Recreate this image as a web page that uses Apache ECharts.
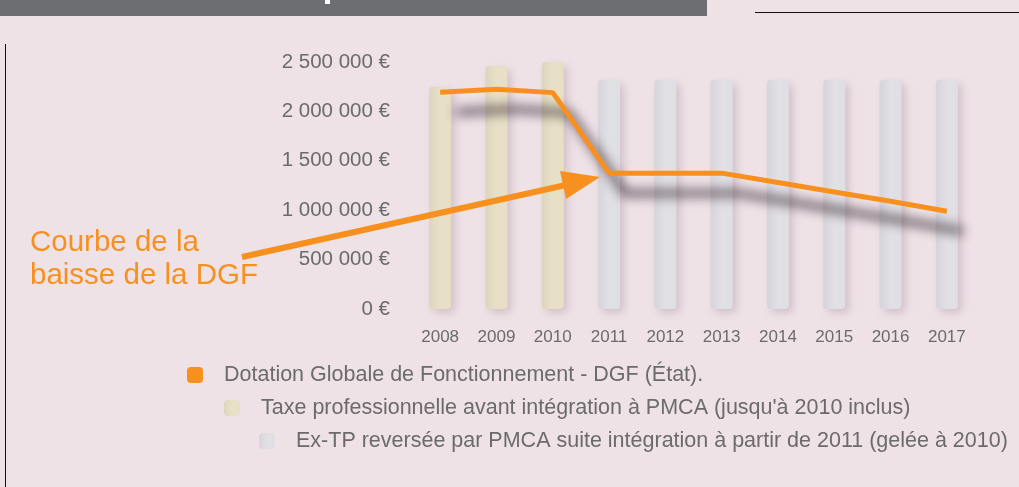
<!DOCTYPE html>
<html>
<head>
<meta charset="utf-8">
<script src="https://cdn.jsdelivr.net/npm/echarts@6/dist/echarts.min.js"></script>
<style>
  html, body { margin: 0; padding: 0; background: #eee2e7; }
  #chart { width: 1019px; height: 487px; }
</style>
</head>
<body>
<div id="chart"></div>
<script>
const years = ["2008", "2009", "2010", "2011", "2012", "2013", "2014", "2015", "2016", "2017"];
const taxePro = [2250000, 2460000, 2540000, null, null, null, null, null, null, null];
const exTP = [null, null, null, 2320000, 2320000, 2320000, 2320000, 2320000, 2320000, 2320000];
const dgf = [2195000, 2225000, 2190000, 1375000, 1375000, 1375000, 1280000, 1185000, 1090000, 990000];
const yTicks = { min: 0, max: 2500000, interval: 500000 };
const seriesNames = [
  "Dotation Globale de Fonctionnement - DGF (État).",
  "Taxe professionnelle avant intégration à PMCA (jusqu'à 2010 inclus)",
  "Ex-TP reversée par PMCA suite intégration à partir de 2011 (gelée à 2010)"
];

const chart = echarts.init(document.getElementById("chart"));

function euro(v) {
  return String(v).replace(/\B(?=(\d{3})+(?!\d))/g, " ") + " €";
}

// petite légende décalée, une par série
function legendAt(name, left, top) {
  return {
    data: [name],
    left: left,
    top: top,
    icon: "roundRect",
    itemWidth: 16,
    itemHeight: 16,
    selectedMode: false,
    textStyle: {
      color: "#6b6b6b",
      fontSize: 21.5,
      fontFamily: "Liberation Sans, Arial",
      padding: [0, 0, 0, 16]
    }
  };
}

const barShadow = {
  shadowBlur: 8,
  shadowColor: "rgba(90,60,75,0.2)",
  shadowOffsetX: 4,
  shadowOffsetY: 4
};

chart.setOption({
  backgroundColor: "#eee2e7",
  animation: false,
  grid: { left: 412, width: 563, top: 62, bottom: 178 },
  xAxis: {
    type: "category",
    data: years,
    axisLine: { show: false },
    axisTick: { show: false },
    axisLabel: { color: "#6b6b6b", fontSize: 17, margin: 20, fontFamily: "Liberation Sans, Arial" }
  },
  yAxis: {
    type: "value",
    min: yTicks.min,
    max: yTicks.max,
    interval: yTicks.interval,
    axisLine: { show: false },
    axisTick: { show: false },
    splitLine: { show: false },
    axisLabel: {
      color: "#6b6b6b",
      fontSize: 20.5,
      margin: 22,
      fontFamily: "Liberation Sans, Arial",
      formatter: euro
    }
  },
  legend: [
    legendAt(seriesNames[0], 182, 359),
    legendAt(seriesNames[1], 219, 392),
    legendAt(seriesNames[2], 254, 425)
  ],
  series: [
    {
      name: seriesNames[1],
      type: "bar",
      data: taxePro,
      barWidth: 22,
      barGap: "-100%",
      itemStyle: Object.assign({
        borderRadius: 4,
        color: new echarts.graphic.LinearGradient(0, 0, 1, 0, [
          { offset: 0, color: "#dcd5bd" },
          { offset: 0.5, color: "#e8e0c6" },
          { offset: 1, color: "#e6dfc6" }
        ])
      }, barShadow)
    },
    {
      name: seriesNames[2],
      type: "bar",
      data: exTP,
      barWidth: 22,
      barGap: "-100%",
      itemStyle: Object.assign({
        borderRadius: 4,
        color: new echarts.graphic.LinearGradient(0, 0, 1, 0, [
          { offset: 0, color: "#d6d4da" },
          { offset: 0.5, color: "#e1e0e5" },
          { offset: 1, color: "#dfdee3" }
        ])
      }, barShadow)
    },
    {
      name: seriesNames[0],
      type: "line",
      data: dgf,
      symbol: "none",
      z: 5,
      color: "#f7901e",
      lineStyle: {
        width: 5,
        color: "#f7901e",
        shadowBlur: 12,
        shadowColor: "rgba(45,30,40,1)",
        shadowOffsetX: 16,
        shadowOffsetY: 20
      }
    }
  ],
  graphic: [
    { type: "rect", shape: { x: 0, y: 0, width: 707, height: 16 }, style: { fill: "#6d6e71" } },
    { type: "rect", shape: { x: 325, y: 0, width: 5, height: 4 }, style: { fill: "#ffffff" } },
    { type: "line", shape: { x1: 755, y1: 12.5, x2: 1019, y2: 12.5 }, style: { stroke: "#111", lineWidth: 1 } },
    { type: "line", shape: { x1: 5.5, y1: 44, x2: 5.5, y2: 487 }, style: { stroke: "#111", lineWidth: 1 } },
    {
      type: "text",
      left: 30,
      top: 226,
      style: {
        text: "Courbe de la\nbaisse de la DGF",
        fill: "#f7901e",
        font: "29.5px Liberation Sans, Arial",
        lineHeight: 33
      }
    },
    { type: "line", z: 10, shape: { x1: 242, y1: 257, x2: 566, y2: 185 }, style: { stroke: "#f7901e", lineWidth: 6 } },
    { type: "polygon", z: 10, shape: { points: [[600, 177], [560, 171], [566, 199]] }, style: { fill: "#f7901e" } }
  ]
});
</script>
</body>
</html>
